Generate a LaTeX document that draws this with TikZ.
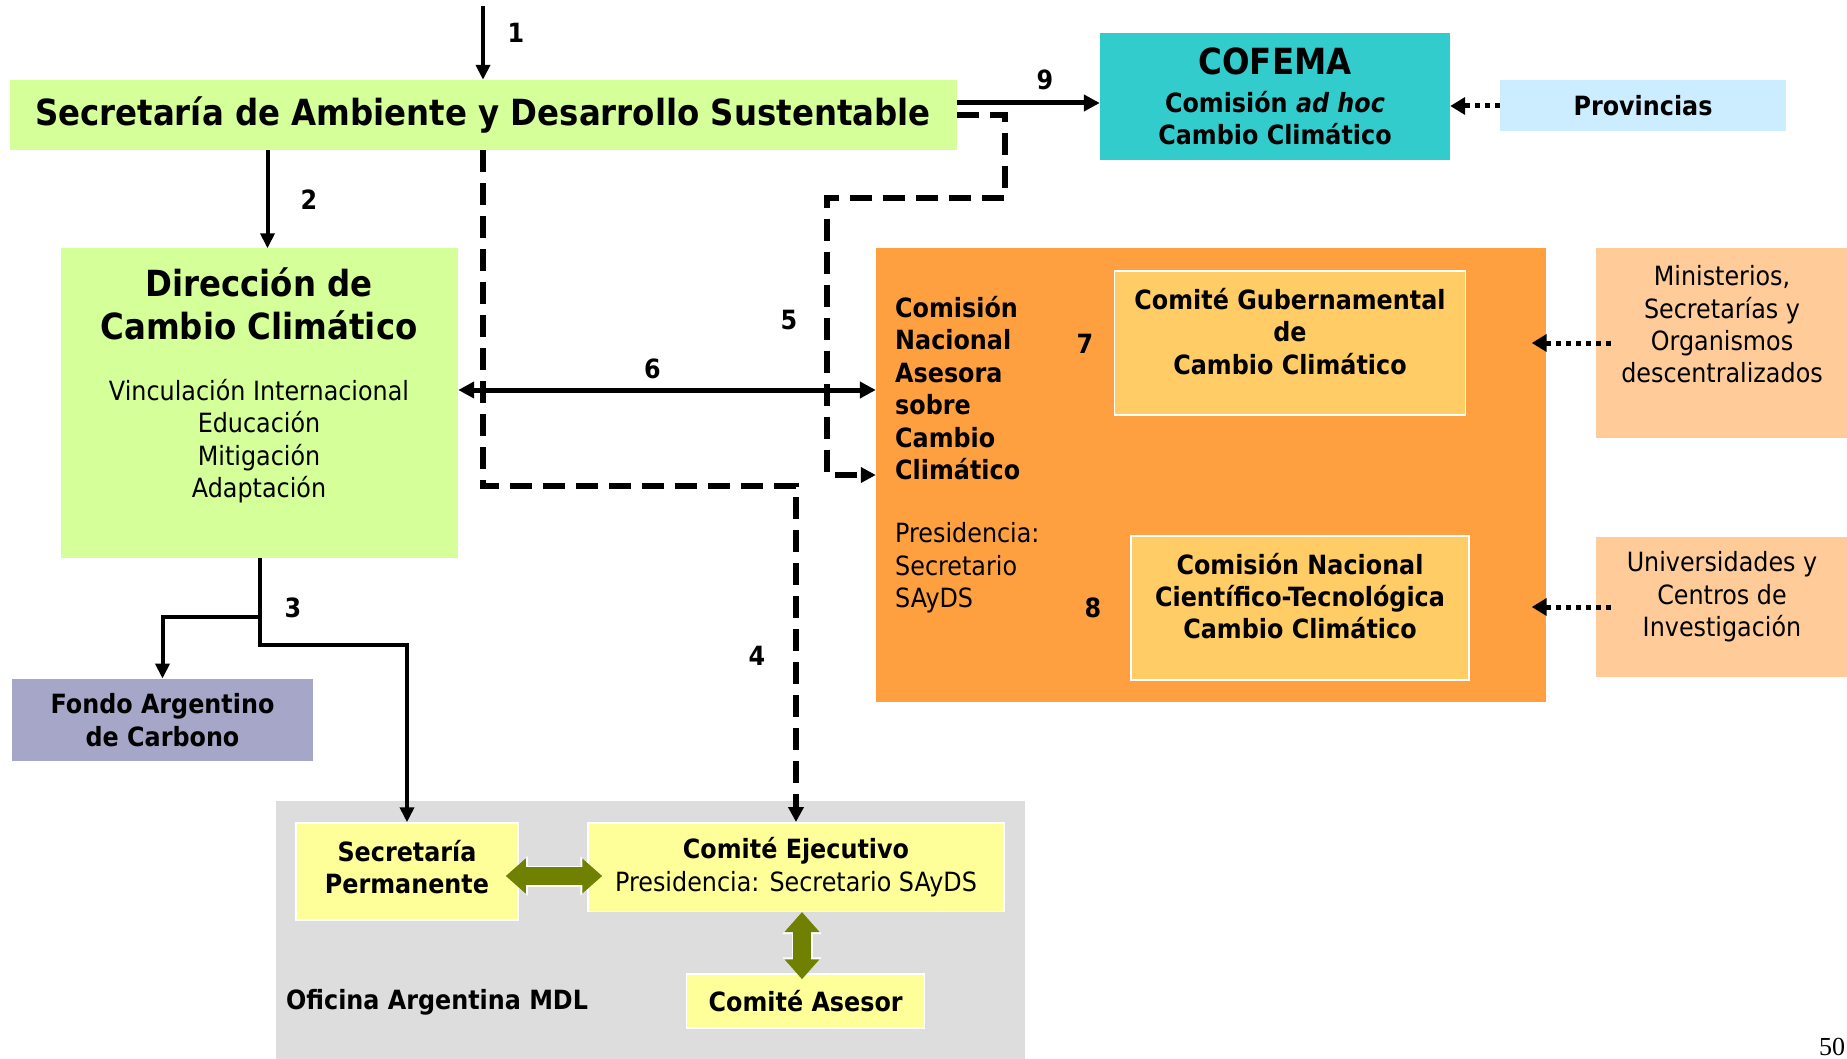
\documentclass[tikz,border=0pt]{standalone}
\usepackage{fontspec}
\setmainfont{DejaVu Sans}[FakeStretch=0.9]
\newfontfamily\fuentepagina{Liberation Serif}
\usetikzlibrary{arrows.meta}

\definecolor{verdeclaro}{RGB}{212,255,153}
\definecolor{turquesa}{RGB}{51,204,204}
\definecolor{celeste}{RGB}{204,236,255}
\definecolor{naranja}{RGB}{255,160,64}
\definecolor{naranjaclaro}{RGB}{255,204,102}
\definecolor{durazno}{RGB}{255,204,153}
\definecolor{lavanda}{RGB}{166,166,200}
\definecolor{grisclaro}{RGB}{221,221,221}
\definecolor{amarillo}{RGB}{255,255,153}
\definecolor{oliva}{RGB}{112,128,0}

\newcommand{\tamgrande}{\fontsize{36}{43}\selectfont}
\newcommand{\tamnormal}{\fontsize{26.5}{32.4}\selectfont}

\tikzset{
  caja/.style={rectangle, inner sep=0pt, align=center, font=\tamnormal},
  subcaja/.style={caja, draw=white, line width=1.5pt},
  texto/.style={inner sep=0pt, align=center, font=\tamnormal},
  numero/.style={inner sep=0pt, font=\tamnormal\bfseries},
  flecha/.style={line width=4pt, -{Triangle[length=15pt,width=14pt]}},
  flechagruesa/.style={line width=5pt, -{Triangle[length=16pt,width=16pt]}},
  discont/.style={line width=5.5pt, dash pattern=on 22pt off 11pt, -{Triangle[length=15pt,width=15pt]}},
  punteada/.style={line width=5pt, dash pattern=on 5pt off 5pt, -{Triangle[length=15pt,width=17pt]}},
  dobleoliva/.style={draw=oliva, line width=18pt,
    {Triangle[length=20pt,width=34pt]}-{Triangle[length=20pt,width=34pt]},
    preaction={draw=white, line width=21pt,
      {Triangle[length=22pt,width=38pt]}-{Triangle[length=22pt,width=38pt]}}},
}

\begin{document}
\begin{tikzpicture}[x=1pt, y=-1pt]
  \useasboundingbox (0,0) rectangle (1847,1059);

  % cajas de arriba
  \node[caja, fill=verdeclaro, minimum width=947pt, minimum height=70pt,
        font=\tamgrande\bfseries] (sayds) at (483,115)
        {Secretaría de Ambiente y Desarrollo Sustentable};
  \node[caja, fill=turquesa, minimum width=350pt, minimum height=127pt,
        font=\tamnormal\bfseries] (cofema) at (1275,96.5)
        {{\tamgrande COFEMA}\\[5pt]Comisión \textit{ad hoc}\\Cambio Climático};
  \node[caja, fill=celeste, minimum width=286pt, minimum height=51pt,
        font=\tamnormal\bfseries] (provincias) at (1643,106) {Provincias};

  % direccion
  \node[caja, fill=verdeclaro, minimum width=397pt, minimum height=309pt] (direccion) at (259.5,403) {};
  \node[texto, font=\tamgrande\bfseries] (titulodir) at (259,303.5) {Dirección de\\Cambio Climático};
  \node[texto] (listadir) at (259,441) {Vinculación Internacional\\Educación\\Mitigación\\Adaptación};

  % comision nacional asesora
  \node[caja, fill=naranja, minimum width=669.5pt, minimum height=453.5pt] (cnacc) at (1210.75,475.25) {};
  \node[texto, align=left, anchor=west, font=\tamnormal\bfseries] (nombrecnacc) at (895,388)
        {Comisión\\Nacional\\Asesora\\sobre\\Cambio\\Climático};
  \node[texto, align=left, anchor=west] (presidcnacc) at (895,568) {Presidencia:\\Secretario\\SAyDS};
  \node[subcaja, fill=naranjaclaro, minimum width=351pt, minimum height=144pt] (comgub) at (1290,343) {};
  \node[texto, font=\tamnormal\bfseries] (textocomgub) at (1290,331.5) {Comité Gubernamental\\de\\Cambio Climático};
  \node[subcaja, fill=naranjaclaro, minimum width=338pt, minimum height=144pt] (comcyt) at (1300,608) {};
  \node[texto, font=\tamnormal\bfseries] (textocomcyt) at (1300,596)
        {Comisión Nacional\\Científico-Tecnológica\\Cambio Climático};

  % cajas de la derecha
  \node[caja, fill=durazno, minimum width=251pt, minimum height=190pt] (ministerios) at (1721.5,343) {};
  \node[texto] (textomin) at (1722,324.5) {Ministerios,\\Secretarías y\\Organismos\\descentralizados};
  \node[caja, fill=durazno, minimum width=251pt, minimum height=140pt] (universidades) at (1721.5,607) {};
  \node[texto] (textouniv) at (1722,597) {Universidades y\\Centros de\\Investigación};

  % fondo y oficina MDL
  \node[caja, fill=lavanda, minimum width=301pt, minimum height=82.5pt,
        font=\tamnormal\bfseries] (fondo) at (162.5,720) {Fondo Argentino\\de Carbono};
  \node[caja, fill=grisclaro, minimum width=749.4pt, minimum height=258pt] (oficina) at (650.3,930) {};
  \node[texto, anchor=west, font=\tamnormal\bfseries] (textooficina) at (286,1002) {Oficina Argentina MDL};
  \node[subcaja, fill=amarillo, minimum width=222pt, minimum height=97pt] (secperm) at (407,871.5) {};
  \node[texto, font=\tamnormal\bfseries] (textosecperm) at (407,867) {Secretaría\\Permanente};
  \node[subcaja, fill=amarillo, minimum width=416pt, minimum height=88.5pt] (comejec) at (796,867)
        {\textbf{Comité Ejecutivo}\\Presidencia: Secretario SAyDS};
  \node[subcaja, fill=amarillo, minimum width=238pt, minimum height=54pt,
        font=\tamnormal\bfseries] (comases) at (805.7,1001) {Comité Asesor};

  \node[inner sep=0pt, font=\fuentepagina\fontsize{26}{30}\selectfont] (pagina) at (1832,1047) {50};

  % conectores
  \coordinate (entrada) at (483,6);
  \draw[flecha] (entrada) -- (sayds.north);
  \draw[flecha] ([xshift=8pt]direccion.north |- sayds.south) -- ([xshift=8pt]direccion.north);
  \draw[flecha] (direccion.south) |- (secperm.north |- 0,645) -- (secperm.north);
  \draw[flecha] (direccion.south |- 0,617) -| (fondo.north);
  \draw[discont] (sayds.south) |- (comejec.north |- 0,486) -- (comejec.north);
  \draw[discont] (sayds.east) -- (1005,115) |- (827,198) |- (cnacc.west |- 0,475);
  \draw[flechagruesa, {Triangle[length=16pt,width=16pt]}-{Triangle[length=16pt,width=16pt]}]
        ([yshift=13pt]direccion.east) -- ([yshift=13pt]direccion.east -| cnacc.west);
  \draw[flechagruesa] ([yshift=12pt]sayds.east) -- ([yshift=12pt]sayds.east -| cofema.west);
  \draw[punteada] (provincias.west) -- (provincias.west -| cofema.east);
  \draw[punteada] ([xshift=15pt]ministerios.west) -- ([xshift=-14pt]ministerios.west -| cnacc.east);
  \draw[punteada] ([xshift=15pt]universidades.west) -- ([xshift=-14pt]universidades.west -| cnacc.east);
  \draw[dobleoliva, shorten <=-13pt, shorten >=-15pt]
        ([yshift=-9pt]comejec.west -| secperm.east) -- ([yshift=-9pt]comejec.west);
  \draw[dobleoliva, shorten >=-6pt]
        ([xshift=6pt]comejec.south) -- ([xshift=6pt]comejec.south |- comases.north);

  % numeros
  \node[numero] (n1) at (516,33) {1};
  \node[numero] (n2) at (309,200) {2};
  \node[numero] (n3) at (293,608) {3};
  \node[numero] (n4) at (757,656) {4};
  \node[numero] (n5) at (789,320) {5};
  \node[numero] (n6) at (652.5,369) {6};
  \node[numero] (n7) at (1085,344) {7};
  \node[numero] (n8) at (1093,608) {8};
  \node[numero] (n9) at (1045,80) {9};
\end{tikzpicture}
\end{document}
